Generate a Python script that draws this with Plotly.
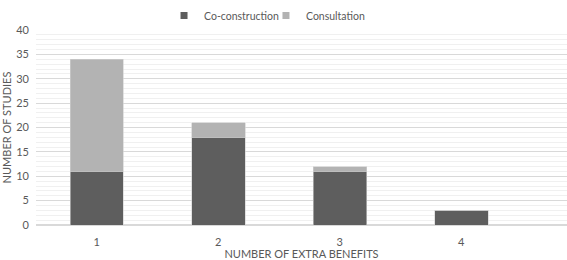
import plotly.graph_objects as go

categories = [1, 2, 3, 4]
co_construction = [11, 18, 11, 3]
consultation = [23, 3, 1, 0]
y_ticks = [0, 5, 10, 15, 20, 25, 30, 35, 40]

font = "Lato"
txt = "#595959"
dark = "#5e5e5e"
light = "#b3b3b3"

fig = go.Figure()
fig.add_bar(x=categories, y=co_construction, name="Co-construction", showlegend=False,
            marker=dict(color=dark, line=dict(color="#d0d0d0", width=0.6)), width=0.44)
fig.add_bar(x=categories, y=consultation, name="Consultation", showlegend=False,
            marker=dict(color=light, line=dict(color="#d0d0d0", width=0.6)), width=0.44)
# legend entries with small square swatches
fig.add_scatter(x=[None], y=[None], mode="markers", name="Co-construction", legend="legend",
                marker=dict(symbol="square", size=7, color=dark))
fig.add_scatter(x=[None], y=[None], mode="markers", name="Consultation", legend="legend2",
                marker=dict(symbol="square", size=7, color=light))

leg_common = dict(orientation="h", xanchor="left", y=1.0, yanchor="bottom",
                  font=dict(size=10.5, color=txt), itemwidth=30, bgcolor="rgba(0,0,0,0)")

fig.update_layout(
    barmode="stack",
    width=567, height=260,
    margin=dict(l=36, r=0, t=30, b=35, autoexpand=False),
    paper_bgcolor="white", plot_bgcolor="white",
    font=dict(family=font, size=11, color=txt),
    showlegend=True,
    legend=dict(x=0.2411, **leg_common),
    legend2=dict(x=0.4331, **leg_common),
    xaxis=dict(range=[0.5, 4.87], tickvals=categories, ticktext=[str(c) for c in categories],
               showgrid=False, zeroline=False, showline=False, ticks="",
               ticklabelstandoff=9, automargin=False,
               title=dict(text="NUMBER OF EXTRA BENEFITS", font=dict(size=11, color=txt), standoff=0)),
    yaxis=dict(range=[0, 40], tickvals=y_ticks, showgrid=True, gridcolor="#d9d9d9", gridwidth=1,
               zeroline=True, zerolinecolor="#d9d9d9", showline=False, ticks="",
               ticklabelstandoff=6, automargin=False,
               minor=dict(dtick=1, showgrid=True, gridcolor="#f0f0f0", gridwidth=1),
               title=dict(text="NUMBER OF STUDIES", font=dict(size=11, color=txt), standoff=3)),
)

fig.write_html("out.html", config={"displayModeBar": False},
               post_script="document.body.style.margin='0px';")
